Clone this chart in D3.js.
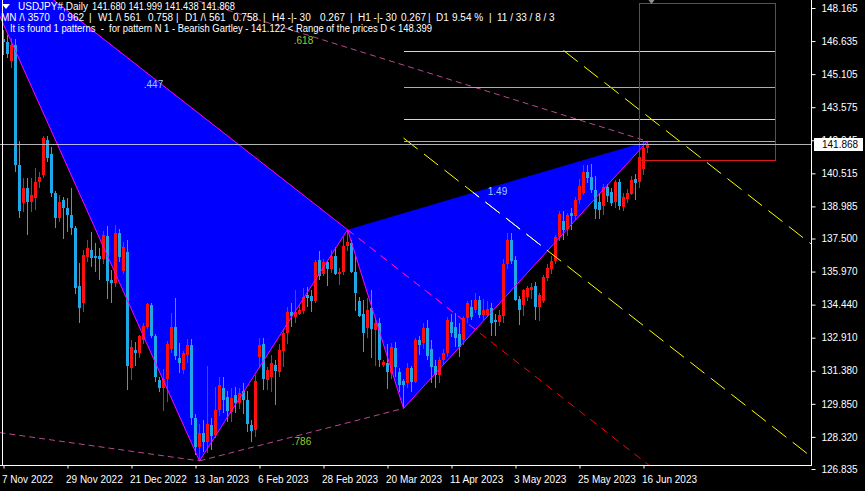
<!DOCTYPE html>
<html><head><meta charset="utf-8">
<script src="https://cdn.jsdelivr.net/npm/d3@7"></script>
<style>
html,body{margin:0;padding:0;background:#000;}
svg{display:block;}
text{font-family:"Liberation Sans",Arial,sans-serif;white-space:pre;}
</style></head><body>
<svg id="c" width="865" height="491"></svg>
<script>
// ---- DATA (daily bars, index 0 = 7 Nov 2022) ----
const opens=[146.75,146.60,145.70,146.45,140.90,139.13,139.82,139.20,139.36,140.13,140.44,142.06,141.40,139.59,138.43,139.28,138.90,138.59,137.97,135.30,
134.50,136.65,136.95,136.70,136.70,136.55,137.60,135.60,135.43,137.74,136.00,136.89,131.50,132.34,132.19,132.80,133.42,134.40,133.00,130.95,
130.60,131.00,132.40,133.40,131.95,131.42,132.10,132.55,129.20,127.85,128.50,128.10,128.87,128.40,129.56,130.60,130.15,129.45,130.25,129.87,
130.45,130.05,128.87,128.64,132.03,132.60,130.95,131.10,131.64,131.30,132.30,133.11,134.10,133.85,134.00,134.15,134.90,134.85,134.60,136.50,
135.85,136.40,136.10,136.70,135.85,135.95,137.15,137.30,135.95,134.60,134.00,133.34,134.30,133.26,133.60,131.64,131.72,131.26,132.45,131.34,
130.90,130.80,131.50,130.85,132.80,132.65,133.35,132.40,131.60,131.20,131.87,132.20,133.65,133.40,133.10,132.80,133.80,134.34,134.19,134.65,
133.96,133.95,134.27,133.75,133.65,133.90,136.30,137.43,136.50,134.70,134.42,134.80,135.10,135.30,134.35,134.60,135.65,136.10,136.45,137.55,
138.30,137.95,138.70,138.55,139.30,139.60,140.59,140.35,139.75,139.20,139.00,139.90,139.65,139.20,140.10,138.95,139.35,139.55,140.25,140.10,
140.70,141.680];
const highs=[147.15,146.90,146.76,146.75,142.00,140.29,140.30,140.29,140.75,140.59,142.25,142.25,141.75,139.70,139.51,139.43,139.36,139.82,138.10,136.35,
136.95,137.43,137.82,137.28,137.05,137.85,138.10,136.04,138.12,137.95,137.35,137.45,132.80,132.73,133.05,133.60,134.50,134.50,133.10,131.10,
131.45,132.75,134.05,134.77,132.65,132.30,132.85,132.85,129.40,128.90,129.10,131.58,129.18,130.64,131.10,131.10,130.45,130.60,130.64,130.60,
130.80,130.45,129.10,131.20,132.90,132.90,131.55,132.10,131.87,132.60,133.30,134.35,134.50,135.12,134.45,135.20,135.27,135.10,136.50,136.90,
136.55,136.45,136.95,137.10,136.15,137.55,137.91,137.45,136.70,134.80,134.65,134.75,135.10,133.85,133.80,131.90,132.60,132.65,132.70,131.50,
131.00,131.75,131.60,132.90,133.00,133.60,133.75,132.80,131.90,132.00,132.40,133.85,134.00,134.03,133.60,133.90,134.60,134.65,135.00,134.85,
134.70,134.60,134.50,134.00,134.20,136.55,137.75,137.77,136.70,134.85,135.15,135.30,135.45,135.50,135.00,135.80,136.30,136.70,137.65,138.75,
138.75,138.70,138.90,139.40,140.25,140.90,140.90,140.93,140.40,139.60,140.00,140.00,139.85,140.20,140.25,139.60,139.80,140.40,140.50,141.50,
141.95,141.999];
const lows=[146.00,145.85,145.37,140.60,138.45,138.74,137.66,138.74,138.82,139.82,140.29,141.06,139.40,137.97,138.28,137.50,137.81,137.66,134.95,133.60,
134.10,136.43,136.20,135.96,135.58,136.30,134.70,134.50,135.27,136.40,135.85,130.50,130.95,131.60,131.95,132.60,133.30,132.90,130.85,130.40,
129.50,129.95,132.20,131.90,131.26,131.25,131.75,128.87,127.47,127.21,127.63,127.57,127.71,128.25,129.30,129.41,129.00,129.00,129.41,129.60,
129.40,128.55,128.08,128.30,131.50,130.50,130.50,130.41,129.80,131.10,131.55,132.60,133.42,133.60,133.95,134.00,134.34,134.10,134.50,135.60,
135.75,135.30,135.90,135.80,135.35,135.80,136.90,135.90,134.15,133.85,132.26,132.90,131.95,131.60,131.55,131.55,130.55,131.00,131.10,130.40,
129.64,130.60,130.40,130.80,132.10,132.40,131.90,130.80,130.60,130.80,131.70,132.00,132.95,132.49,132.00,132.55,133.60,133.75,134.03,133.80,
133.75,133.85,133.00,133.00,133.45,133.60,136.10,136.30,134.60,133.50,133.90,134.60,134.70,133.75,133.70,134.50,135.55,135.85,136.30,137.40,
137.45,137.60,137.90,138.35,139.10,139.50,140.05,139.60,138.40,138.40,138.60,139.20,139.00,138.90,138.80,138.75,139.15,139.50,139.30,139.85,
140.45,141.438];
const closes=[146.60,146.05,146.45,140.90,138.75,139.82,139.20,139.51,140.13,140.36,142.13,141.21,139.60,138.43,139.20,138.90,138.59,137.97,135.20,134.30,
136.75,137.04,136.58,136.58,136.55,137.66,135.55,135.43,137.74,136.66,137.12,131.60,132.49,132.19,133.00,133.45,134.45,133.00,131.10,130.60,
131.00,132.60,133.40,132.05,131.75,132.19,132.55,129.20,127.85,128.50,128.10,128.90,128.38,129.56,130.72,130.05,129.50,130.10,129.87,130.33,
130.05,128.90,128.60,130.90,132.57,131.00,131.41,131.72,131.35,132.34,133.11,134.11,133.90,134.10,134.20,134.80,134.75,134.60,136.43,135.75,
136.40,136.10,136.70,135.85,135.95,137.15,137.35,135.95,135.00,133.90,133.15,134.20,133.30,133.60,131.87,131.80,131.30,132.49,131.57,130.72,
130.72,131.49,130.85,132.80,132.55,133.35,132.05,131.57,131.20,131.87,132.18,133.75,133.15,132.90,132.50,133.80,134.50,133.88,134.65,133.96,
134.20,134.25,133.60,133.65,133.96,136.30,137.43,136.45,134.65,134.20,135.10,135.20,135.25,134.35,134.90,135.73,136.15,136.45,137.55,138.65,
137.90,138.60,138.55,139.28,139.95,140.59,140.30,139.75,138.85,138.80,139.90,139.45,139.15,140.10,139.00,139.40,139.60,140.20,140.05,141.25,
141.67,141.868];

const xTickIdx=[0,16,32,48,64,80,96,112,128,144,160];
const xTickLabels=["7 Nov 2022","29 Nov 2022","21 Dec 2022","13 Jan 2023","6 Feb 2023","28 Feb 2023","20 Mar 2023","11 Apr 2023","3 May 2023","25 May 2023","16 Jun 2023"];
const yTickValues=[148.165,146.635,145.105,143.575,142.045,140.515,138.985,137.500,135.970,134.440,132.910,131.380,129.850,128.320,126.835];
const yTickLabels=["148.165","146.635","145.105","143.575","142.045","140.515","138.985","137.500","135.970","134.440","132.910","131.380","129.850","128.320","126.835"];

// Gartley pattern points X A B C D (bar index, price)
const patternIdx=[-11,49,86,100,161];
const patternPrice=[151.94,127.21,137.91,129.64,141.999];
const ratioLabels=[".447",".618",".786","1.49"];
const ratioFrom=[0,0,1,2]; // X, X, A, B
const ratioTo=[2,4,3,4];   // B, D, C, D
const guideStart=[-1,128.52];           // dashed guide into A (bar, price)
const levelPrices=[146.175,144.51,143.03,142.01];
const levelColors=["#f2e24a","#4fd2dc","#f2e24a","#4fd2dc"];
const levelFrom=100, levelTo=193;
const rangeLow=141.122, rangeHigh=148.399, rangeFrom=159, rangeTo=193;
const chanUpper=[140,146.20,205,136.80]; // bar, price, bar, price
const chanLower=[100,142.15,205,126.96];
const lastPrice=141.868;
const header1a="USDJPY#,Daily", header1b="141.680 141.999 141.438 141.868";
const header2=["MN /\\ 3570","0.962","|","W1 /\\ 561","0.758","|","D1 /\\ 561","0.758","|","H4 -|- 30","0.267","|","H1 -|- 30","0.267","|","D1","9.54 %","|","11 / 33 / 8 / 3"];
const header2x=[1,59,89,98,148,176,185,233,263,272,320,350,358,401,428,436,452,489,497];
const header3="It is found 1 patterns  -  for pattern N 1 - Bearish Gartley - 141.122 < Range of the prices D < 148.399";

// ---- CHART ----
const W=865,H=491, plotR=811, plotB=465;
const svg=d3.select("#c");
svg.append("rect").attr("width",W).attr("height",H).attr("fill","#000");
const x=d3.scaleLinear().domain([0,1]).range([3.5,7.5]);
const y=d3.scaleLinear().domain([126.835,148.165]).range([469,8]);
const line=d3.line();
const P=patternIdx.map((d,i)=>[x(d),y(patternPrice[i])]);
const [pX,pA,pB,pC,pD]=P;
const triXAB=line([pX,pA,pB])+"Z", triBCD=line([pB,pC,pD])+"Z";

const defs=svg.append("defs");
defs.append("clipPath").attr("id","plot").append("rect").attr("x",0).attr("y",0).attr("width",plotR).attr("height",plotB);
const ct=defs.append("clipPath").attr("id","tri");
ct.append("path").attr("d",triXAB); ct.append("path").attr("d",triBCD);

const plot=svg.append("g").attr("clip-path","url(#plot)");
plot.append("path").attr("d",triXAB).attr("fill","#0000ff");
plot.append("path").attr("d",triBCD).attr("fill","#0000ff");

// candles
const bars=d3.range(opens.length);
const bull="#ff1010", bear="#1ea8e8";
const cg=plot.append("g").attr("shape-rendering","crispEdges");
cg.selectAll("line").data(bars).join("line")
  .attr("x1",i=>x(i)).attr("x2",i=>x(i))
  .attr("y1",i=>y(highs[i])).attr("y2",i=>y(lows[i]))
  .attr("stroke",i=>closes[i]>=opens[i]?bull:bear).attr("stroke-width",1);
cg.selectAll("rect").data(bars).join("rect")
  .attr("x",i=>x(i)-1.5).attr("width",3)
  .attr("y",i=>y(Math.max(opens[i],closes[i])))
  .attr("height",i=>Math.max(1,Math.abs(y(opens[i])-y(closes[i]))))
  .attr("fill",i=>closes[i]>=opens[i]?bull:bear);

// objects
const og=plot.append("g");
const orLayer=plot.append("g").attr("clip-path","url(#tri)"); // colours as they look over the blue fill
function seg(g,a,b,col,dash){
  const l=g.append("line").attr("x1",a[0]).attr("y1",a[1]).attr("x2",b[0]).attr("y2",b[1]).attr("stroke",col).attr("stroke-width",1);
  if(dash) l.attr("stroke-dasharray",dash);
  return l;
}
[[0,1],[1,2],[0,2],[2,3],[3,4]].forEach(([a,b])=>seg(og,P[a],P[b],"#ff00ff"));
const dashPink="#b84a8c";
seg(og,P[0],P[4],dashPink,"6,4");
seg(og,P[1],P[3],dashPink,"6,4");
seg(og,[x(guideStart[0]),y(guideStart[1])],pA,dashPink,"6,4");
const xbSlope=(patternPrice[2]-patternPrice[0])/(patternIdx[2]-patternIdx[0]);
const redEnd=[x(175),y(patternPrice[2]+xbSlope*(175-patternIdx[2]))];
seg(og,pB,redEnd,"#ff0000","8,6");
seg(orLayer,pB,redEnd,"#ff00ff","8,6");
[chanUpper,chanLower].forEach(c=>{
  const a=[x(c[0]),y(c[1])], b=[x(c[2]),y(c[3])];
  seg(og,a,b,"#ffff00","18,8");
  seg(orLayer,a,b,"#ffffff","18,8");
});
const lg=og.append("g").attr("shape-rendering","crispEdges");
levelPrices.forEach((p,i)=>{
  const yy=Math.round(y(p))+0.5;
  seg(lg,[x(levelFrom),yy],[x(levelTo),yy],levelColors[i]);
});
lg.append("rect").attr("x",x(rangeFrom)).attr("y",Math.round(y(rangeHigh))+0.5)
  .attr("width",x(rangeTo)-x(rangeFrom)).attr("height",Math.round(y(rangeLow))-Math.round(y(rangeHigh)))
  .attr("fill","none").attr("stroke","#e01818").attr("stroke-width",1);
const lpY=Math.round(y(lastPrice))+0.5;
seg(lg,[0,lpY],[plotR,lpY],"#b4b4b4");
seg(orLayer,[0,lpY],[plotR,lpY],"#b4b4ff").attr("shape-rendering","crispEdges");
ratioLabels.forEach((t,i)=>{
  const a=P[ratioFrom[i]], b=P[ratioTo[i]];
  const mx=(a[0]+b[0])/2, my=(a[1]+b[1])/2;
  const overBlue=(i===0||i===3);
  og.append("text").attr("x",mx).attr("y",my+10)
    .attr("text-anchor","middle").attr("font-size",10).attr("fill",overBlue?"#9acdff":"#9acd32").text(t);
});

// frame
const fr=svg.append("g").attr("shape-rendering","crispEdges");
fr.append("line").attr("x1",2.5).attr("x2",2.5).attr("y1",0).attr("y2",plotB).attr("stroke","#fff");
fr.append("line").attr("x1",plotR+0.5).attr("x2",plotR+0.5).attr("y1",0).attr("y2",plotB+1).attr("stroke","#fff");
fr.append("line").attr("x1",0).attr("x2",plotR+1).attr("y1",plotB+0.5).attr("y2",plotB+0.5).attr("stroke","#fff");
svg.append("path").attr("d",`M${x(162)-3},0L${x(162)+3},0L${x(162)},4Z`).attr("fill","#909090");

// y axis
const yAxis=d3.axisRight(y).tickValues(yTickValues).tickSize(4).tickFormat((d,i)=>yTickLabels[i]);
const ga=svg.append("g").attr("transform",`translate(${plotR+0.5},0)`).call(yAxis);
ga.select(".domain").remove();
ga.selectAll(".tick line").attr("stroke","#fff");
ga.selectAll(".tick text").attr("fill","#fff").attr("x",10).attr("font-size",10)
  .attr("font-family","Liberation Sans, Arial, sans-serif");
const ly=Math.round(y(lastPrice));
svg.append("rect").attr("x",plotR+3).attr("y",ly-6).attr("width",49).attr("height",13).attr("fill","#fff");
svg.append("text").attr("x",plotR+11).attr("y",ly+4).attr("font-size",10).attr("fill","#000").text(lastPrice.toFixed(3));

// x axis
const xAxis=d3.axisBottom(x).tickValues(xTickIdx).tickSize(3).tickFormat((d,i)=>xTickLabels[i]);
const gx=svg.append("g").attr("transform",`translate(0,${plotB+0.5})`).call(xAxis);
gx.select(".domain").remove();
gx.selectAll(".tick line").attr("stroke","#fff");
gx.selectAll(".tick text").attr("fill","#fff").attr("text-anchor","start").attr("x",-2).attr("y",10).attr("font-size",10)
  .attr("font-family","Liberation Sans, Arial, sans-serif");

// header
svg.append("path").attr("d","M2,4L10,4L6,9Z").attr("fill","#fff");
svg.append("text").attr("x",18).attr("y",10).attr("font-size",10).attr("fill","#fff").text(header1a);
svg.append("text").attr("x",92).attr("y",10).attr("font-size",10).attr("fill","#fff")
  .attr("textLength",143).attr("lengthAdjust","spacingAndGlyphs").text(header1b);
const h2=svg.append("text").attr("y",21).attr("font-size",10).attr("fill","#fff");
header2.forEach((t,i)=>h2.append("tspan").attr("x",header2x[i]).text(t));
svg.append("text").attr("x",10).attr("y",32).attr("font-size",10).attr("fill","#fff")
  .attr("textLength",422).attr("lengthAdjust","spacingAndGlyphs").text(header3);
</script>
</body></html>
